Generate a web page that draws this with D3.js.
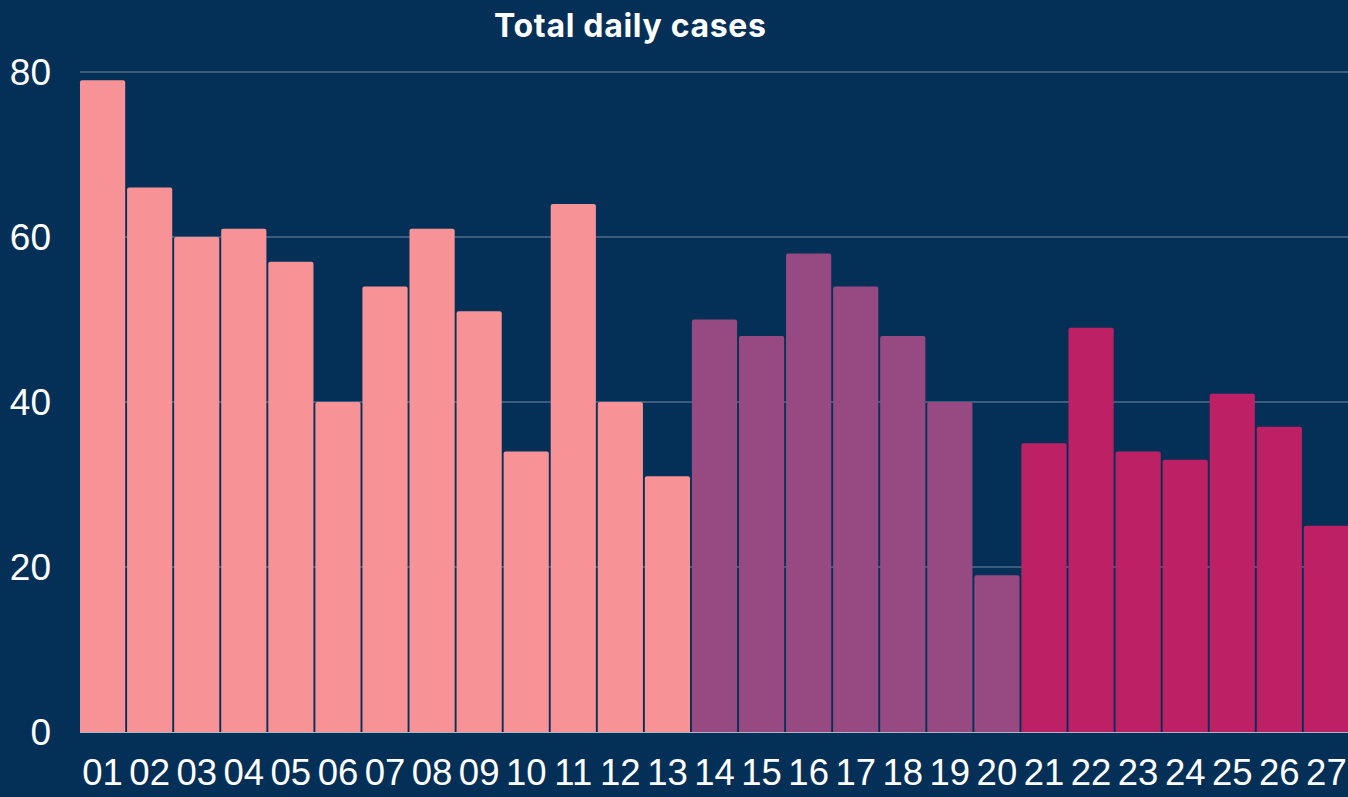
<!DOCTYPE html>
<html><head><meta charset="utf-8">
<script src="https://cdn.jsdelivr.net/npm/d3@7"></script>
<style>html,body{margin:0;padding:0;background:#043057;overflow:hidden}</style>
</head><body>
<svg id="c" width="1348" height="797"></svg>
<script>
const categories = ["01","02","03","04","05","06","07","08","09","10","11","12","13","14","15","16","17","18","19","20","21","22","23","24","25","26","27"];
const values = [79,66,60,61,57,40,54,61,51,34,64,40,31,50,48,58,54,48,40,19,35,49,34,33,41,37,25];
const groups = ["A","A","A","A","A","A","A","A","A","A","A","A","A","B","B","B","B","B","B","B","C","C","C","C","C","C","C"];
const groupColors = {A:"#F79297", B:"#964A81", C:"#BE2066"};
const yTicks = [0,20,40,60,80];
const title = "Total daily cases";

const svg = d3.select("#c");
svg.append("rect").attr("width",1348).attr("height",797).attr("fill","#043057");
const x = d3.scaleBand().domain(categories).range([80,1349]).paddingInner(0.04).paddingOuter(0);
const y = d3.scaleLinear().domain([0,80]).range([732,72]);

svg.append("g").selectAll("line").data(yTicks.filter(d=>d>0)).join("line")
  .attr("x1",80).attr("x2",1348).attr("y1",d=>y(d)).attr("y2",d=>y(d))
  .attr("stroke","#4C6B8D").attr("stroke-width",1.5);

const r = 2;
svg.append("g").selectAll("path").data(values).join("path")
  .attr("fill",(d,i)=>groupColors[groups[i]])
  .attr("d",(d,i)=>{
    const x0 = x(categories[i]), w = x.bandwidth(), y0 = y(d), yb = y(0);
    return `M${x0},${yb}V${y0+r}Q${x0},${y0} ${x0+r},${y0}H${x0+w-r}Q${x0+w},${y0} ${x0+w},${y0+r}V${yb}Z`;
  });

svg.append("line").attr("x1",80).attr("x2",1348).attr("y1",y(0)+0.5).attr("y2",y(0)+0.5)
  .attr("stroke","#A9B7C8").attr("stroke-width",1);

svg.append("g").selectAll("text").data(yTicks).join("text")
  .attr("x",51).attr("y",d=>y(d)).attr("dy","0.36em").attr("text-anchor","end")
  .attr("fill","#fff").attr("font-family","Liberation Sans, Arial, sans-serif").attr("font-size",37)
  .text(d=>d);

svg.append("g").selectAll("text").data(categories).join("text")
  .attr("x",d=>x(d)+x.bandwidth()/2).attr("y",785).attr("text-anchor","middle")
  .attr("fill","#fff").attr("font-family","Liberation Sans, Arial, sans-serif").attr("font-size",36.5)
  .text(d=>d);

svg.append("text").attr("x",630).attr("y",37).attr("text-anchor","middle")
  .attr("fill","#fff").attr("font-family","Inter, Lato, sans-serif").attr("font-weight",700).attr("font-size",32)
  .attr("textLength",272).attr("lengthAdjust","spacing")
  .text(title);
</script>
</body></html>
